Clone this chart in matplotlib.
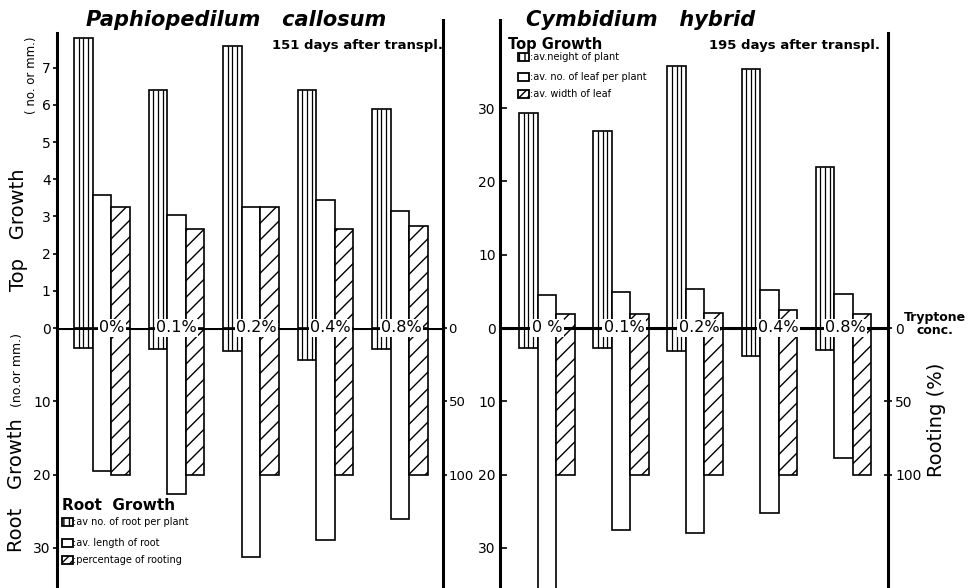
import numpy as np
import matplotlib.pyplot as plt
from matplotlib.patches import Rectangle
from matplotlib.ticker import FuncFormatter

# ---- data ----
conc_left = ["0%", "0.1%", "0.2%", "0.4%", "0.8%"]
conc_right = ["0 %", "0.1%", "0.2%", "0.4%", "0.8%"]

# Paphiopedilum callosum (151 days)
paph_top_striped = [7.8, 6.4, 7.58, 6.4, 5.9]
paph_top_white = [3.58, 3.04, 3.24, 3.44, 3.15]
paph_top_hatched = [3.24, 2.65, 3.24, 2.65, 2.74]
paph_root_no = [2.7, 2.9, 3.2, 4.4, 2.9]
paph_root_len = [19.5, 22.7, 31.2, 28.9, 26.0]
paph_rooting = [100, 100, 100, 100, 100]

# Cymbidium hybrid (195 days)
cymb_height = [29.3, 26.9, 35.7, 35.3, 22.0]
cymb_leaf_no = [4.5, 4.9, 5.3, 5.2, 4.6]
cymb_leaf_width = [1.9, 1.9, 2.1, 2.45, 1.9]
cymb_root_no = [2.77, 2.77, 3.2, 3.8, 3.0]
cymb_root_len = [38.0, 27.6, 28.0, 25.2, 17.8]
cymb_rooting = [100, 100, 100, 100, 100]

W, H = 972, 588
plt.rcParams['font.family'] = ['DejaVu Sans']
plt.rcParams['hatch.linewidth'] = 1.0


def box(x0, y0, x1, y1):
    return [x0 / W, 1 - y1 / H, (x1 - x0) / W, (y1 - y0) / H]


w = 0.25
x = np.arange(5)
LW = 1.2


def striped(ax, xc, h):
    h = np.asarray(h, float)
    ax.bar(xc, h, w, facecolor='white', edgecolor='black', lw=LW, zorder=2)
    for k in (1, 2, 3):
        ax.vlines(xc - w / 2 + k * w / 4, 0, h, color='black', lw=0.9, zorder=3)


def plain(ax, xc, h):
    ax.bar(xc, h, w, facecolor='white', edgecolor='black', lw=LW, zorder=2)


def hatched(ax, xc, h):
    ax.bar(xc, h, w, facecolor='white', edgecolor='black', lw=LW, hatch='//', zorder=2)


def clean(ax):
    ax.set_facecolor('none')
    for s in ('top', 'bottom'):
        ax.spines[s].set_visible(False)
    for s in ('left', 'right'):
        ax.spines[s].set_linewidth(2.2)
    ax.set_xticks([])


fig = plt.figure(figsize=(9.72, 5.88), dpi=100)

# ---------------- left panel ----------------
px_top, px_bot = 37.2, 7.33
ax1t = fig.add_axes(box(57, 20, 443, 328))
ax1b = fig.add_axes(box(57, 328, 443, 588))
ax1r = ax1b.twinx()
xl = (-(102 - 57) / 74.5, (443 - 102) / 74.5)
for a in (ax1t, ax1b, ax1r):
    a.set_xlim(*xl)
    clean(a)
ax1t.set_ylim(0, 308 / px_top)
ax1b.set_ylim(260 / px_bot, 0)
ax1r.set_ylim(260 / px_bot * 5, 0)
ax1t.spines['left'].set_bounds(0, (328 - 33) / px_top)
ax1b.spines['right'].set_visible(False)
ax1r.spines['left'].set_visible(False)

striped(ax1t, x - w, paph_top_striped)
plain(ax1t, x, paph_top_white)
hatched(ax1t, x + w, paph_top_hatched)
striped(ax1b, x - w, paph_root_no)
plain(ax1b, x, paph_root_len)
hatched(ax1r, x + w, paph_rooting)

ax1t.set_yticks(range(0, 8))
ax1t.tick_params(axis='y', left=True, right=False, direction='out', length=3,
                 width=1.2, labelsize=10, pad=1.5)
ax1b.set_yticks([10, 20, 30])
ax1b.tick_params(axis='y', direction='out', length=3, width=1.2, labelsize=10, pad=1.5)
ax1r.set_yticks([0, 50, 100])
ax1r.tick_params(axis='y', direction='out', length=3, width=1.2, labelsize=9.5, pad=1)

ax1r.axhline(0, color='black', lw=2.2, zorder=4)
for i, lab in enumerate(conc_left):
    dx = (0.13, 0.0, 0.07, 0.07, 0.02)[i]
    ax1r.text(x[i] + dx, 0, lab, ha='center', va='center', fontsize=11.5, zorder=6,
              bbox=dict(boxstyle='square,pad=0.08', fc='white', ec='none'))

# ---------------- right panel ----------------
ax2 = fig.add_axes(box(500, 20, 888, 588))
ax2r = ax2.twinx()
xr = (-(547 - 500) / 74.1, (888 - 547) / 74.1)
for a in (ax2, ax2r):
    a.set_xlim(*xr)
    clean(a)
ax2.set_ylim(-260 / px_bot, 308 / px_bot)
ax2r.set_ylim(260 / px_bot * 5, -308 / px_bot * 5)
ax2.spines['right'].set_visible(False)
ax2r.spines['left'].set_visible(False)
ax2r.spines['right'].set_bounds(260 / px_bot * 5, -(328 - 33) / px_bot * 5)

striped(ax2, x - w, cymb_height)
plain(ax2, x, cymb_leaf_no)
hatched(ax2, x + w, cymb_leaf_width)
striped(ax2, x - w, -np.asarray(cymb_root_no))
plain(ax2, x, -np.asarray(cymb_root_len))
hatched(ax2r, x + w, cymb_rooting)

ax2.set_yticks([-30, -20, -10, 0, 10, 20, 30])
ax2.yaxis.set_major_formatter(FuncFormatter(lambda v, p: f"{abs(v):g}"))
ax2.tick_params(axis='y', direction='in', length=5, width=1.2, labelsize=10, pad=3)
ax2r.set_yticks([0, 50, 100])
ax2r.tick_params(axis='y', direction='inout', length=6, width=1.2, labelsize=10, pad=2)

ax2r.axhline(0, color='black', lw=2.2, zorder=4)
for i, lab in enumerate(conc_right):
    dx = (0.0, 0.04, 0.05, 0.12, 0.03)[i]
    ax2r.text(x[i] + dx, 0, lab, ha='center', va='center', fontsize=11.5, zorder=6,
              bbox=dict(boxstyle='square,pad=0.08', fc='white', ec='none'))

# ---------------- texts ----------------
def ft(px, py, s, **kw):
    fig.text(px / W, 1 - py / H, s, **kw)


ft(236, 20, "Paphiopedilum   callosum", fontsize=15, fontweight='bold', style='italic',
   ha='center', va='center')
ft(443, 45, "151 days after transpl.", fontsize=9.5, fontweight='bold', ha='right', va='center')
ft(641, 20, "Cymbidium   hybrid", fontsize=15, fontweight='bold', style='italic',
   ha='center', va='center')
ft(880, 45, "195 days after transpl.", fontsize=9.5, fontweight='bold', ha='right', va='center')

ft(19, 230, "Top   Growth", fontsize=14, rotation=90, ha='center', va='center')
ft(31, 75, "( no. or mm.)", fontsize=8.5, rotation=90, ha='center', va='center')
ft(17, 485, "Root   Growth", fontsize=14, rotation=90, ha='center', va='center')
ft(18, 370, "(no.or mm.)", fontsize=9, rotation=90, ha='center', va='center')
ft(936, 420, "Rooting (%)", fontsize=14, rotation=90, ha='center', va='center')
ft(935, 324, "Tryptone\nconc.", fontsize=9, fontweight='bold', ha='center', va='center',
   linespacing=1.0)


# legends
def leg_icon(px, py, kind):
    r = Rectangle((px / W, 1 - (py + 4) / H), 11 / W, 8 / H, transform=fig.transFigure,
                  facecolor='white', edgecolor='black', lw=1.3,
                  hatch={'striped': '|||', 'plain': None, 'hatched': '////'}[kind])
    fig.add_artist(r)


ft(508, 44, "Top Growth", fontsize=10.5, fontweight='bold', ha='left', va='center')
for py, kind, s in [(57, 'striped', ":av.neight of plant"),
                    (77, 'plain', ":av. no. of leaf per plant"),
                    (94, 'hatched', ":av. width of leaf")]:
    leg_icon(518, py, kind)
    ft(530, py, s, fontsize=7, ha='left', va='center')

ft(62, 505, "Root  Growth", fontsize=11, fontweight='bold', ha='left', va='center')
for py, kind, s in [(522, 'striped', ":av no. of root per plant"),
                    (543, 'plain', ":av. length of root"),
                    (560, 'hatched', ":percentage of rooting")]:
    leg_icon(62, py, kind)
    ft(73, py, s, fontsize=7, ha='left', va='center')

fig.savefig("out.png", dpi=100)
